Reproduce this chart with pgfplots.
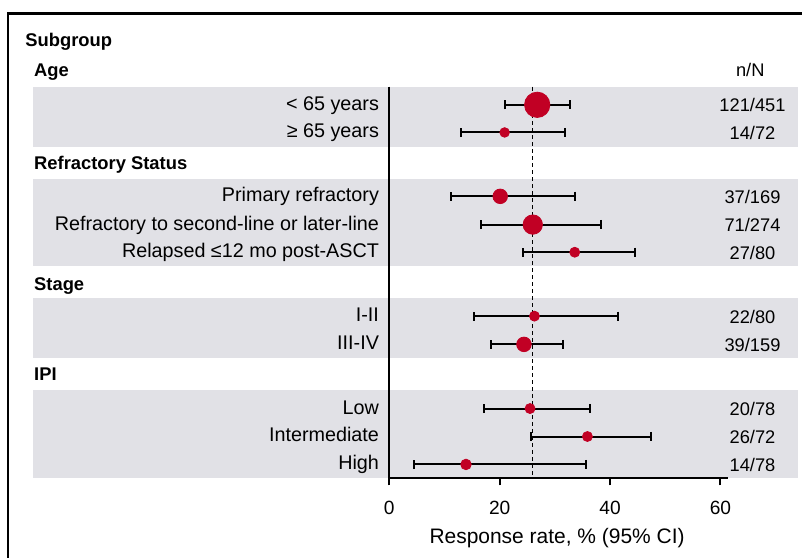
\documentclass[border=0pt]{standalone}
\usepackage{pgfplots}
\pgfplotsset{compat=1.18}
\usepackage{pgfplotstable}
\usepackage{fontspec}
\setmainfont{Liberation Sans}
\definecolor{dotred}{RGB}{193,0,36}
\definecolor{bandgray}{RGB}{225,225,230}

% y = row position, x = response rate, lo/hi = 95% CI, r = marker radius (pt)
\pgfplotstableread{
y     x     lo    hi    r
105   26.8  21.0  32.7  6.35
132.7 20.9  13.0  31.8  2.4
196.7 20.1  11.1  33.6  3.65
225   26.0  16.6  38.4  4.85
252.7 33.6  24.2  44.5  2.5
316.7 26.3  15.4  41.4  2.5
345   24.4  18.4  31.5  3.65
409.3 25.5  17.2  36.3  2.5
437.3 35.9  25.7  47.5  2.5
465.3 13.9  4.5   35.6  2.65
}\datatab

\newcommand{\rowfont}{\fontsize{9.9}{12}\selectfont}
\newcommand{\headfont}{\fontsize{9.2}{11}\selectfont\bfseries}
\newcommand{\nfont}{\fontsize{9.15}{11}\selectfont}

\begin{document}
\begin{tikzpicture}
\begin{axis}[
  x=2.765pt, y=0.5pt,
  y dir=reverse,
  xmin=0, xmax=61.3,
  ymin=86.7, ymax=479.3,
  axis x line*=bottom, axis y line*=left,
  axis line style={-, line width=1pt, black},
  axis on top,
  clip=false,
  ytick=\empty,
  xtick={0,20,40,60},
  tick align=outside,
  major tick length=3.5pt,
  tick style={line width=1pt, black},
  /pgf/number format/assume math mode=true,
  xticklabel style={font=\fontsize{9.6}{11}\selectfont, text=black, yshift=-4.5pt},
  xlabel={Response rate, \% (95\% CI)},
  xlabel style={at={(axis cs:30.4,539)}, anchor=center, font=\fontsize{10.5}{12}\selectfont},
]
% background bands
\addplot[fill=bandgray, draw=none] coordinates {(-64.6,86.7) (74.1,86.7) (74.1,147.3) (-64.6,147.3)} -- cycle;
\addplot[fill=bandgray, draw=none] coordinates {(-64.6,179) (74.1,179) (74.1,266.7) (-64.6,266.7)} -- cycle;
\addplot[fill=bandgray, draw=none] coordinates {(-64.6,299) (74.1,299) (74.1,359) (-64.6,359)} -- cycle;
\addplot[fill=bandgray, draw=none] coordinates {(-64.6,390.7) (74.1,390.7) (74.1,479.3) (-64.6,479.3)} -- cycle;
% overall reference line
\addplot[black, line width=0.5pt, dash pattern=on 2pt off 1.5pt] coordinates {(25.9,86.7) (25.9,479.3)};
% CIs
\addplot[black, only marks, mark=none,
  error bars/.cd, x dir=both, x explicit,
  error bar style={line width=1pt, black, solid},
  error mark=|,
  error mark options={line width=1pt, black, solid, mark size=2.3pt}]
  table[x=x, y=y, x error plus expr=\thisrow{hi}-\thisrow{x}, x error minus expr=\thisrow{x}-\thisrow{lo}] {\datatab};
% points
\addplot[scatter, only marks, mark=*,
  scatter/use mapped color={draw=dotred, fill=dotred},
  visualization depends on={\thisrow{r} \as \rad},
  scatter/@pre marker code/.append style={/tikz/mark size=\rad}]
  table[x=x, y=y] {\datatab};

% frame and picture extent
\draw[line width=1.5pt, black] (axis cs:74.68,13.3) -- (axis cs:-69.07,13.3) -- (axis cs:-69.07,559);
\path (axis cs:-70.52,0) rectangle (axis cs:74.68,559);

% headers
\node[anchor=base west, inner sep=0pt, font=\headfont] at (axis cs:-66.0,47) {Subgroup};
\node[anchor=base west, inner sep=0pt, font=\headfont] at (axis cs:-64.4,76.5) {Age};
\node[anchor=base west, inner sep=0pt, font=\headfont] at (axis cs:-64.4,170) {Refractory Status};
\node[anchor=base west, inner sep=0pt, font=\headfont] at (axis cs:-64.4,291.5) {Stage};
\node[anchor=base west, inner sep=0pt, font=\headfont] at (axis cs:-64.4,381.5) {IPI};
\node[anchor=base, inner sep=0pt, font=\nfont] at (axis cs:65.4,77) {n/N};

% row labels
\node[anchor=base east, inner sep=0pt, font=\rowfont] at (axis cs:-1.8,110.5) {< 65 years};
\node[anchor=base east, inner sep=0pt, font=\rowfont] at (axis cs:-1.8,138.2) {≥ 65 years};
\node[anchor=base east, inner sep=0pt, font=\rowfont] at (axis cs:-1.8,202.2) {Primary refractory};
\node[anchor=base east, inner sep=0pt, font=\rowfont] at (axis cs:-1.8,230.5) {Refractory to second-line or later-line};
\node[anchor=base east, inner sep=0pt, font=\rowfont] at (axis cs:-1.8,258.2) {Relapsed ≤12 mo post-ASCT};
\node[anchor=base east, inner sep=0pt, font=\rowfont] at (axis cs:-1.8,322.2) {I-II};
\node[anchor=base east, inner sep=0pt, font=\rowfont] at (axis cs:-1.8,350.5) {III-IV};
\node[anchor=base east, inner sep=0pt, font=\rowfont] at (axis cs:-1.8,414.8) {Low};
\node[anchor=base east, inner sep=0pt, font=\rowfont] at (axis cs:-1.8,442.8) {Intermediate};
\node[anchor=base east, inner sep=0pt, font=\rowfont] at (axis cs:-1.8,470.8) {High};

% n/N values
\node[anchor=base, inner sep=0pt, font=\nfont] at (axis cs:65.8,112) {121/451};
\node[anchor=base, inner sep=0pt, font=\nfont] at (axis cs:65.8,139.7) {14/72};
\node[anchor=base, inner sep=0pt, font=\nfont] at (axis cs:65.8,203.7) {37/169};
\node[anchor=base, inner sep=0pt, font=\nfont] at (axis cs:65.8,232) {71/274};
\node[anchor=base, inner sep=0pt, font=\nfont] at (axis cs:65.8,259.7) {27/80};
\node[anchor=base, inner sep=0pt, font=\nfont] at (axis cs:65.8,323.7) {22/80};
\node[anchor=base, inner sep=0pt, font=\nfont] at (axis cs:65.8,352) {39/159};
\node[anchor=base, inner sep=0pt, font=\nfont] at (axis cs:65.8,416.3) {20/78};
\node[anchor=base, inner sep=0pt, font=\nfont] at (axis cs:65.8,444.3) {26/72};
\node[anchor=base, inner sep=0pt, font=\nfont] at (axis cs:65.8,472.3) {14/78};
\end{axis}
\end{tikzpicture}
\end{document}
